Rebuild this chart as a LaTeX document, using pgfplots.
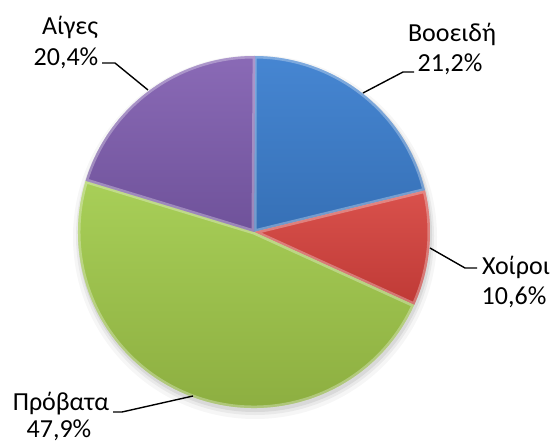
\documentclass[border=0pt]{standalone}
\usepackage{pgfplots}
\pgfplotsset{compat=1.18}
\usepackage{pgfplotstable}
\usepackage{fontspec}
\setmainfont{Carlito}

\definecolor{bT}{HTML}{4686D2}\definecolor{bB}{HTML}{3670B6}
\definecolor{rT}{HTML}{D9514C}\definecolor{rB}{HTML}{BF3A36}
\definecolor{gT}{HTML}{A8CF58}\definecolor{gB}{HTML}{8AAB3E}
\definecolor{pT}{HTML}{8A6AB6}\definecolor{pB}{HTML}{6F529A}

\pgfplotstableread{
name value
Booeidi 21.2
Xoiroi 10.6
Provata 47.9
Aiges 20.4
}\piedata

\newcommand\slice[4]{%
  \shade[top color=#3, bottom color=#4] (axis cs:254,232) -- ++(#1:176bp) arc[start angle=#1,end angle=#2,radius=176bp] -- cycle;
  \begin{scope}
    \clip (axis cs:254,232) -- ++(#1:176bp) arc[start angle=#1,end angle=#2,radius=176bp] -- cycle;
    \draw[white, opacity=0.30, line width=5bp, line join=round] (axis cs:254,232) -- ++(#1:176bp) arc[start angle=#1,end angle=#2,radius=176bp] -- cycle;
  \end{scope}
}

\begin{document}
\pgfplotstablegetelem{0}{value}\of\piedata \pgfmathsetmacro\aA{90-3.6*\pgfplotsretval}%
\pgfplotstablegetelem{1}{value}\of\piedata \pgfmathsetmacro\aB{\aA-3.6*\pgfplotsretval}%
\pgfplotstablegetelem{2}{value}\of\piedata \pgfmathsetmacro\aC{\aB-3.6*\pgfplotsretval}%
\pgfplotstablegetelem{3}{value}\of\piedata \pgfmathsetmacro\aD{\aC-3.6*\pgfplotsretval}%
\begin{tikzpicture}
\begin{axis}[x=1bp, y=1bp, xmin=0, xmax=552, ymin=0, ymax=445, y dir=reverse,
  hide axis, scale only axis, clip=false]
\coordinate (BL) at (axis cs:0,445);
\coordinate (TR) at (axis cs:552,0);
% soft shadow
\fill[black, opacity=0.035] (axis cs:255,237) circle[radius=182bp];
\fill[black, opacity=0.05] (axis cs:255,236) circle[radius=179bp];
\fill[black, opacity=0.07] (axis cs:255,235) circle[radius=177bp];
% slices
\slice{90}{\aA}{bT}{bB}
\slice{\aA}{\aB}{rT}{rB}
\slice{\aB}{\aC}{gT}{gB}
\slice{\aC}{\aD}{pT}{pB}
% leader lines
\addplot[black, line width=1.4pt, no marks] coordinates {(363,93) (403,72) (414,72)};
\addplot[black, line width=1.4pt, no marks] coordinates {(430,248) (465,268) (477,268)};
\addplot[black, line width=1.4pt, no marks] coordinates {(193,396) (122,412) (113,412)};
\addplot[black, line width=1.4pt, no marks] coordinates {(148,90) (115,63) (102,63)};
% labels
\begin{scope}[every node/.style={anchor=base, inner sep=0pt, font=\fontsize{26bp}{30bp}\selectfont, text=black}]
\node at (axis cs:452,42) {Βοοειδή};
\node at (axis cs:450,72) {21,2\%};
\node at (axis cs:516,275) {Χοίροι};
\node at (axis cs:514,304) {10,6\%};
\node at (axis cs:61,410) {Πρόβατα};
\node at (axis cs:59,437) {47,9\%};
\node at (axis cs:70,35) {Αίγες};
\node at (axis cs:66,66) {20,4\%};
\end{scope}
\end{axis}
\pgfresetboundingbox
\useasboundingbox (BL) rectangle (TR);
\end{tikzpicture}
\end{document}
